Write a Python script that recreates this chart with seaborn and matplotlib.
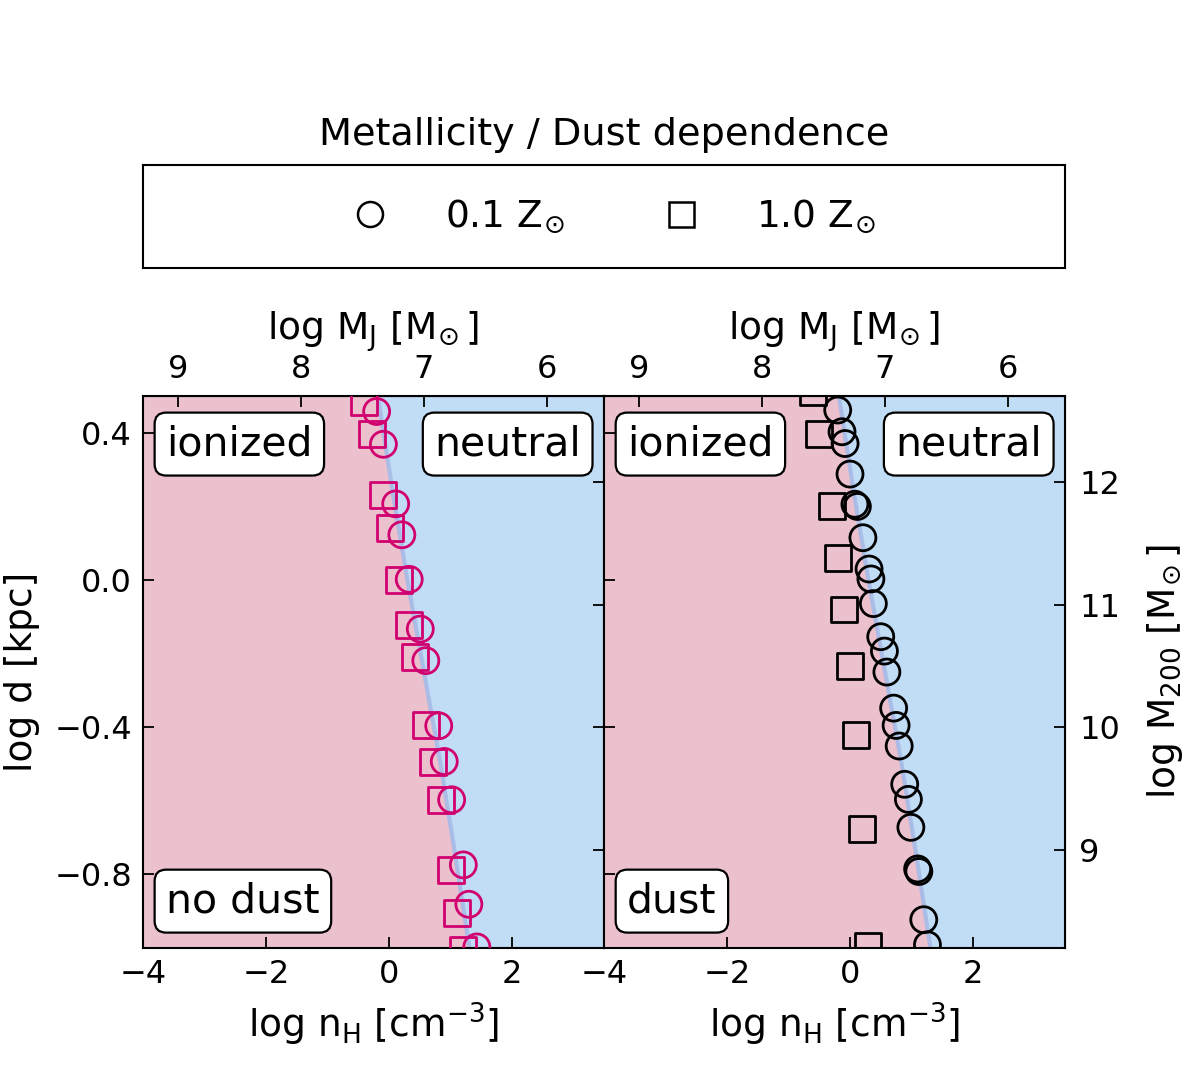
import matplotlib
matplotlib.use("Agg")
import matplotlib.pyplot as plt
from matplotlib.lines import Line2D
import seaborn as sns

# fronteira ionizado / neutro (log d vs log nH)
borda_d = [0.5, 0.25, 0.0, -0.25, -0.5, -0.75, -1.0]
borda_n = [-0.18, 0.05, 0.30, 0.57, 0.84, 1.08, 1.31]

# painel sem poeira
semp_z01_n = [-0.20, -0.09, 0.11, 0.21, 0.33, 0.51, 0.60, 0.81, 0.90, 1.02, 1.21, 1.30, 1.43]
semp_z01_d = [0.458, 0.369, 0.207, 0.123, 0.002, -0.133, -0.219, -0.396, -0.493, -0.597, -0.774, -0.881, -0.997]
semp_z10_n = [-0.40, -0.28, -0.09, 0.02, 0.17, 0.32, 0.42, 0.61, 0.71, 0.84, 1.01, 1.11, 1.21]
semp_z10_d = [0.485, 0.398, 0.230, 0.142, 0.0, -0.122, -0.208, -0.393, -0.494, -0.598, -0.789, -0.906, -1.005]

# painel com poeira
comp_z01_n = [-0.20, -0.13, -0.08, 0.0, 0.08, 0.12, 0.21, 0.31, 0.34, 0.38, 0.50, 0.56,
              0.60, 0.71, 0.75, 0.80, 0.89, 0.95, 0.99, 1.10, 1.12, 1.20, 1.26]
comp_z01_d = [0.462, 0.403, 0.371, 0.288, 0.206, 0.200, 0.115, 0.030, 0.003, -0.064, -0.154, -0.193,
              -0.250, -0.348, -0.395, -0.451, -0.555, -0.596, -0.672, -0.785, -0.792, -0.923, -0.991]
comp_z10_n = [-0.60, -0.51, -0.30, -0.19, -0.10, 0.0, 0.10, 0.20, 0.30]
comp_z10_d = [0.51, 0.397, 0.200, 0.059, -0.080, -0.234, -0.420, -0.676, -0.995]

# eixos secundarios
mj_ticks = [9, 8, 7, 6]
m200_ticks = [9, 10, 11, 12]

rosa = "#ebc1cd"
azul = "#c1dcf5"
magenta = "#d1006f"

sns.set_style("ticks")
plt.rcParams['font.family'] = ['DejaVu Sans']
plt.rcParams.update({
    'text.color': 'black',
    'axes.labelcolor': 'black',
    'xtick.color': 'black',
    'ytick.color': 'black',
    'axes.edgecolor': 'black',
})

fig = plt.figure(figsize=(11.96, 10.71), dpi=100)
ax1 = fig.add_axes([0.1196, 0.1148, 0.3855, 0.5154])
ax2 = fig.add_axes([0.5051, 0.1148, 0.3855, 0.5154])


def n2mj(n):
    return 7.285 - 0.5 * n


def mj2n(m):
    return 2.0 * (7.285 - m)


def d2m(d):
    return 3.0 * d + 11.2


def m2d(m):
    return (m - 11.2) / 3.0


sol = "$\\mathrm{M}_{\\!\\odot}$"

paineis = [
    (ax1, semp_z01_n, semp_z01_d, semp_z10_n, semp_z10_d, magenta, "no dust"),
    (ax2, comp_z01_n, comp_z01_d, comp_z10_n, comp_z10_d, "black", "dust"),
]

for i, (ax, cn, cd, qn, qd, cor, rotulo) in enumerate(paineis):
    ax.fill_betweenx(borda_d, -4, borda_n, color=rosa, lw=0, zorder=0)
    ax.fill_betweenx(borda_d, borda_n, 3.5, color=azul, lw=0, zorder=0)
    sns.lineplot(x=borda_n, y=borda_d, sort=False, estimator=None, color="#a3b9e8",
                 lw=3, alpha=0.85, ax=ax, zorder=1)

    sns.scatterplot(x=qn, y=qd, marker="s", s=350, facecolors="none", edgecolor=cor,
                    linewidth=2.0, ax=ax, zorder=3)
    sns.scatterplot(x=cn, y=cd, marker="o", s=350, facecolors="none", edgecolor=cor,
                    linewidth=2.0, ax=ax, zorder=3)

    ax.set_xlim(-4, 3.5)
    ax.set_ylim(-1.0, 0.5)
    ax.set_xticks([-4, -2, 0, 2])
    ax.set_yticks([0.4, 0.0, -0.4, -0.8])
    ax.tick_params(direction="in", length=8, width=1.3, labelsize=23, pad=8,
                   top=False, right=False)
    ax.set_xlabel("log $\\mathrm{n_H}$ [$\\mathrm{cm^{-3}}$]", fontsize=27, labelpad=8)
    for s in ax.spines.values():
        s.set_linewidth(1.5)

    top = ax.secondary_xaxis("top", functions=(n2mj, mj2n))
    top.set_xticks(mj_ticks)
    top.tick_params(direction="in", length=8, width=1.3, labelsize=23, pad=8)
    top.set_xlabel("log $\\mathrm{M_J}$ [" + sol + "]", fontsize=27, labelpad=10)

    dir_ = ax.secondary_yaxis("right", functions=(d2m, m2d))
    dir_.set_yticks(m200_ticks)
    dir_.tick_params(direction="in", length=8, width=1.3, labelsize=23, pad=10)

    caixa = dict(boxstyle="round,pad=0.28", fc="white", ec="black", lw=1.6)
    ax.text(0.05, 0.913, "ionized", transform=ax.transAxes, fontsize=29.5,
            ha="left", va="center", bbox=caixa, zorder=5)
    ax.text(0.95, 0.913, "neutral", transform=ax.transAxes, fontsize=29.5,
            ha="right", va="center", bbox=caixa, zorder=5)
    ax.text(0.05, 0.085, rotulo, transform=ax.transAxes, fontsize=29.5,
            ha="left", va="center", bbox=caixa, zorder=5)

    if i == 0:
        ax.set_ylabel("log d [kpc]", fontsize=27, labelpad=10)
        dir_.set_yticklabels([])
    else:
        ax.set_yticklabels([])
        ax.set_ylabel("")
        dir_.set_ylabel("log $\\mathrm{M_{200}}$ [" + sol + "]", fontsize=27, labelpad=18)

# caixa da legenda
lax = fig.add_axes([0.1196, 0.7498, 0.771, 0.0962])
lax.set_xticks([])
lax.set_yticks([])
for s in lax.spines.values():
    s.set_linewidth(1.5)
    s.set_color("black")
lax.set_title("Metallicity / Dust dependence", fontsize=27.5, pad=14)
handles = [
    Line2D([], [], ls="none", marker="o", ms=18, mfc="none", mec="black", mew=1.8),
    Line2D([], [], ls="none", marker="s", ms=18, mfc="none", mec="black", mew=1.8),
]
lax.legend(handles, ["0.1 $\\mathrm{Z}_{\\!\\odot}$", "1.0 $\\mathrm{Z}_{\\!\\odot}$"],
           loc="center", ncol=2, frameon=False, fontsize=27, columnspacing=2.1,
           handletextpad=1.0)

fig.savefig("out.png", dpi=100)
